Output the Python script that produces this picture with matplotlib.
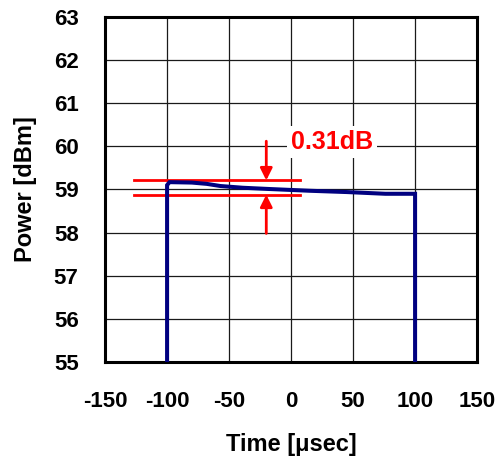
import matplotlib
matplotlib.use("Agg")
import matplotlib.pyplot as plt

plt.rcParams['font.family'] = ['Liberation Sans', 'DejaVu Sans']
plt.rcParams['axes.unicode_minus'] = False

# Pulse envelope: time (usec) and output power (dBm)
time_us = [-100, -100, -98, -80, -68, -57, -39, -17, 15, 45, 76, 100, 100]
power_dbm = [55.0, 59.10, 59.17, 59.16, 59.13, 59.08, 59.04, 59.01, 58.97, 58.94, 58.90, 58.90, 55.0]

# Droop markers
droop_top = 59.21
droop_bottom = 58.88
droop_label = "0.31dB"
marker_x = [-127, 7]
arrow_x = -20

x_ticks = [-150, -100, -50, 0, 50, 100, 150]
y_ticks = [55, 56, 57, 58, 59, 60, 61, 62, 63]

fig = plt.figure(figsize=(4.98, 4.61), dpi=100)
ax = fig.add_axes([0.211, 0.215, 0.747, 0.748])

ax.plot(time_us, power_dbm, color='#000080', lw=2.9, solid_joinstyle='miter', zorder=4)

for yv in (droop_top, droop_bottom):
    ax.plot(marker_x, [yv, yv], color='#ff0000', lw=2.0, zorder=3)

ax.annotate('', xy=(arrow_x, droop_top), xytext=(arrow_x, 60.12),
            arrowprops=dict(arrowstyle='-|>', color='#ff0000', lw=2.0,
                            mutation_scale=18, shrinkA=0, shrinkB=0), zorder=5)
ax.annotate('', xy=(arrow_x, droop_bottom), xytext=(arrow_x, 57.98),
            arrowprops=dict(arrowstyle='-|>', color='#ff0000', lw=2.0,
                            mutation_scale=18, shrinkA=0, shrinkB=0), zorder=5)

ax.text(0, 60.1, droop_label, color='#ff0000', fontsize=18, fontweight='bold',
        ha='left', va='center', zorder=6,
        bbox=dict(facecolor='white', edgecolor='none', pad=3))

ax.set_xlim(-150, 150)
ax.set_ylim(55, 63)
ax.set_xticks(x_ticks)
ax.set_yticks(y_ticks)
ax.grid(True, color='#1a1a1a', lw=0.9, zorder=0)
ax.set_axisbelow(True)
ax.tick_params(length=0, labelsize=16)
ax.tick_params(axis='y', pad=19)
ax.tick_params(axis='x', pad=21)
for lbl in ax.get_xticklabels() + ax.get_yticklabels():
    lbl.set_fontweight('bold')
for s in ax.spines.values():
    s.set_linewidth(2.2)
    s.set_color('#000000')

ax.set_xlabel('Time [μsec]', fontsize=17, fontweight='bold', labelpad=15)
ax.set_ylabel('Power [dBm]', fontsize=17, fontweight='bold', labelpad=12)

fig.savefig('out.png', dpi=100)
